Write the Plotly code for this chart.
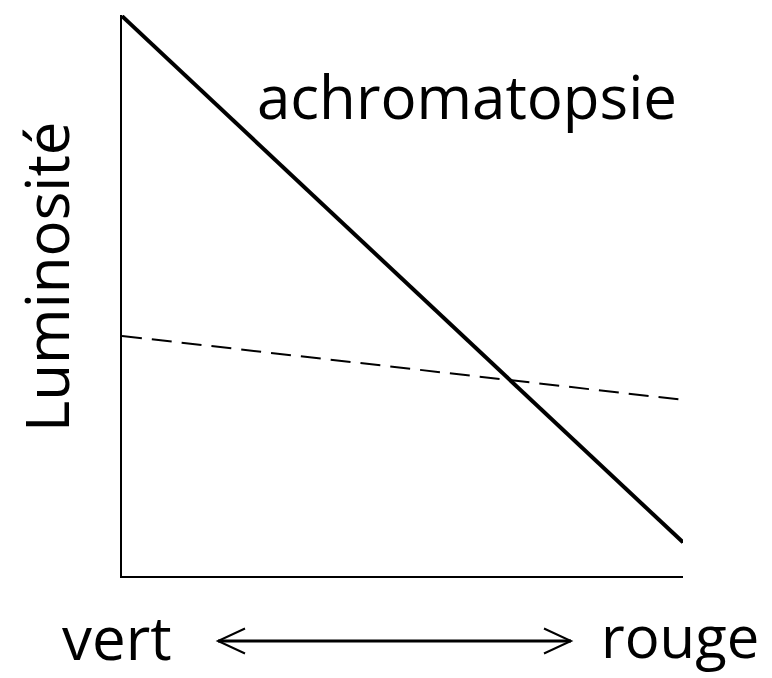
import plotly.graph_objects as go

# Luminosity along the green-to-red axis
positions = [0.0, 1.0]
luminosite_achromatopsie = [0.998, 0.06]
luminosite_normale = [0.428, 0.314]

axis_title = "Luminosité"
curve_label = "achromatopsie"
end_labels = ["vert", "rouge"]

W, H = 772, 678
L, R, T, B = 122, 89, 15, 102
FONT = "Open Sans"
FS = 60

fig = go.Figure()
fig.add_trace(go.Scatter(
    x=positions, y=luminosite_normale, mode="lines",
    line=dict(color="black", width=2, dash="20px,10px"),
    hoverinfo="skip", showlegend=False,
))
fig.add_trace(go.Scatter(
    x=positions, y=luminosite_achromatopsie, mode="lines",
    line=dict(color="black", width=4),
    hoverinfo="skip", showlegend=False,
))

pw = W - L - R
ph = H - T - B


def px(xp):
    return (xp - L) / pw


def py(yp):
    return (H - B - yp) / ph


annotations = [
    dict(text=curve_label, x=px(467), y=py(96), font=dict(size=FS)),
    dict(text=axis_title, x=px(46), y=py(277), textangle=-90, font=dict(size=FS)),
    dict(text=end_labels[0], x=px(117), y=py(637), font=dict(size=FS)),
    dict(text=end_labels[1], x=px(680), y=py(635), font=dict(size=58)),
]
for a in annotations:
    a.update(xref="paper", yref="paper", showarrow=False,
             xanchor="center", yanchor="middle", borderpad=0)
    a["font"].update(family=FONT, color="black")

# double arrow between the two ends of the colour axis
ay = py(641)
x0, x1 = px(218), px(571)
dx, dy = 27 / pw, 12.5 / ph
shapes = [
    dict(type="line", x0=x0, x1=x1, y0=ay, y1=ay, line=dict(color="black", width=3)),
    dict(type="path", path=f"M {x0+dx},{ay+dy} L {x0},{ay} L {x0+dx},{ay-dy}",
         line=dict(color="black", width=2)),
    dict(type="path", path=f"M {x1-dx},{ay+dy} L {x1},{ay} L {x1-dx},{ay-dy}",
         line=dict(color="black", width=2)),
]
for s in shapes:
    s.update(xref="paper", yref="paper")

fig.update_layout(
    width=W, height=H,
    margin=dict(l=L, r=R, t=T, b=B),
    paper_bgcolor="white", plot_bgcolor="white",
    xaxis=dict(range=[0, 1], showgrid=False, zeroline=False, showticklabels=False,
               ticks="", showline=True, linecolor="black", linewidth=2),
    yaxis=dict(range=[0, 1], showgrid=False, zeroline=False, showticklabels=False,
               ticks="", showline=True, linecolor="black", linewidth=2),
    annotations=annotations, shapes=shapes,
)

fig.write_html("out.html")
